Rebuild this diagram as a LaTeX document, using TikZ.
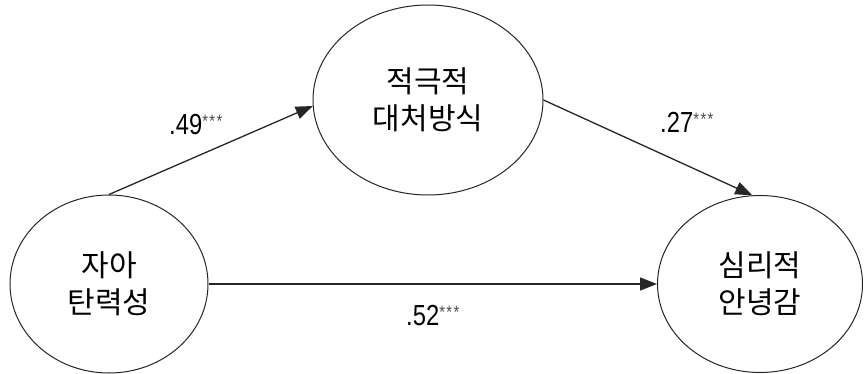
\documentclass[tikz,border=0pt]{standalone}
\usepackage{fontspec}
\newfontfamily\kr{Noto Sans CJK KR}
\newfontfamily\numf[FakeStretch=0.82]{Liberation Sans}
\usetikzlibrary{arrows.meta,shapes.geometric}
\newcommand{\coeftext}[1]{{\numf\fontsize{29}{29}\selectfont #1\raisebox{7pt}{\color{black!70}\fontsize{18}{18}\selectfont *\kern1.5pt*\kern1.5pt*}}}
\begin{document}
\begin{tikzpicture}[x=1pt,y=-1pt,
  lat/.style={ellipse, draw=black!85, line width=1pt, inner sep=0pt, align=center,
    font=\kr\fontsize{30}{37}\selectfont},
  pathar/.style={draw=black!85, line width=1.3pt, -{Triangle[length=17pt,width=13pt]}},
  coef/.style={inner sep=0pt, anchor=base west}]
\useasboundingbox[fill=white] (0,0) rectangle (864,374);
\node[lat, minimum width=198, minimum height=178] (L) at (109,284) {자아\\탄력성};
\node[lat, minimum width=230, minimum height=190] (M) at (428,100) {적극적\\대처방식};
\node[lat, minimum width=205, minimum height=177] (R) at (760,284) {심리적\\안녕감};
\draw[pathar] (L.north) -- (M.183);
\draw[pathar] (M.east) -- (R.95);
\draw[pathar] (L.east) -- (R.west);
\node[coef] (c1) at (169,135) {\coeftext{.49}};
\node[coef] (c2) at (660,133) {\coeftext{.27}};
\node[coef] (c3) at (406,325) {\coeftext{.52}};
\end{tikzpicture}
\end{document}
